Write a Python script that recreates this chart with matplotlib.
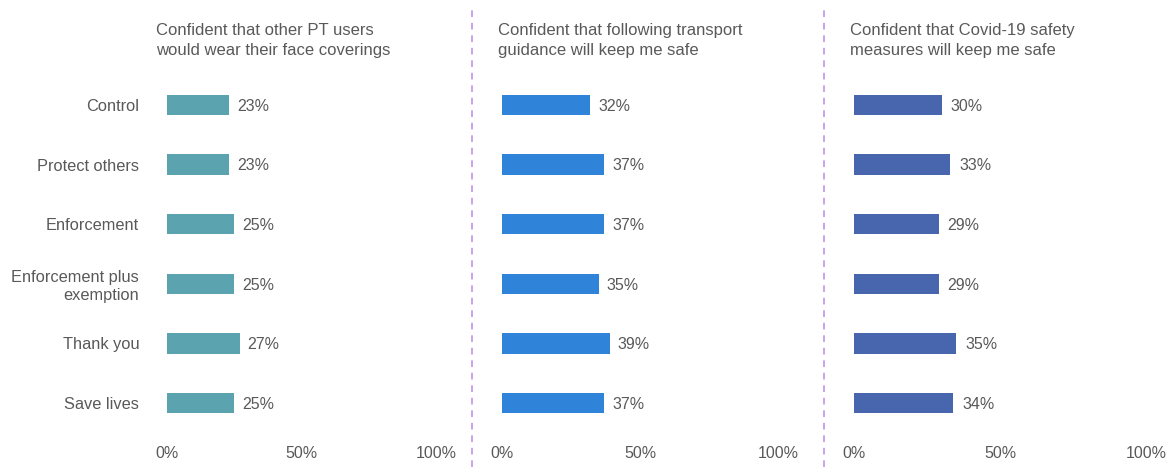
import matplotlib.pyplot as plt
from matplotlib.lines import Line2D

plt.rcParams['font.family'] = ['Liberation Sans', 'DejaVu Sans']

groups = ['Control', 'Protect others', 'Enforcement', 'Enforcement plus\nexemption',
          'Thank you', 'Save lives']
titles = ['Confident that other PT users\nwould wear their face coverings',
          'Confident that following transport\nguidance will keep me safe',
          'Confident that Covid-19 safety\nmeasures will keep me safe']
face_coverings = [23, 23, 25, 25, 27, 25]
guidance = [32, 37, 37, 35, 39, 37]
safety_measures = [30, 33, 29, 29, 35, 34]
xticks = [0, 50, 100]
xticklabels = ['0%', '50%', '100%']

colors = ['#5ba3ae', '#2f83d9', '#4866ae']
grey = '#595959'

W, H = 1171, 467
fig = plt.figure(figsize=(W / 100, H / 100), dpi=100)

# panel extents in pixels: (left, right)
spans = [(167, 436), (502, 778), (854, 1146)]
top_px, bot_px = 75, 433

series = [face_coverings, guidance, safety_measures]
for k, (vals, (x0, x1)) in enumerate(zip(series, spans)):
    ax = fig.add_axes([x0 / W, 1 - bot_px / H, (x1 - x0) / W, (bot_px - top_px) / H])
    ypos = list(range(len(groups)))
    ax.barh(ypos, vals, height=0.34, color=colors[k])
    for y, v in zip(ypos, vals):
        ax.text(v + 3, y + 0.02, f'{v}%', va='center', ha='left', fontsize=11.5, color=grey)
    ax.set_xlim(0, 100)
    ax.set_ylim(len(groups) - 0.5, -0.5)
    ax.set_xticks(xticks)
    ax.set_xticklabels(xticklabels, fontsize=11.5, color=grey)
    ax.tick_params(axis='x', length=0, pad=9)
    if k == 0:
        ax.set_yticks(ypos)
        ax.set_yticklabels(groups, fontsize=11.8, color=grey)
        ax.tick_params(axis='y', length=0, pad=20)
    else:
        ax.set_yticks([])
    for s in ax.spines.values():
        s.set_visible(False)
    fig.text((x0 - (11 if k == 0 else 4)) / W, 1 - 23 / H, titles[k], ha='left', va='top',
             fontsize=12, color=grey, linespacing=1.45)

# dashed dividers between panels
for xd in (472, 824):
    fig.add_artist(Line2D([xd / W, xd / W], [0, 1 - 8 / H], transform=fig.transFigure,
                          color='#bf95e6', lw=1.2, linestyle=(0, (4, 3.5))))

fig.savefig('out.png', dpi=100, facecolor='white')
